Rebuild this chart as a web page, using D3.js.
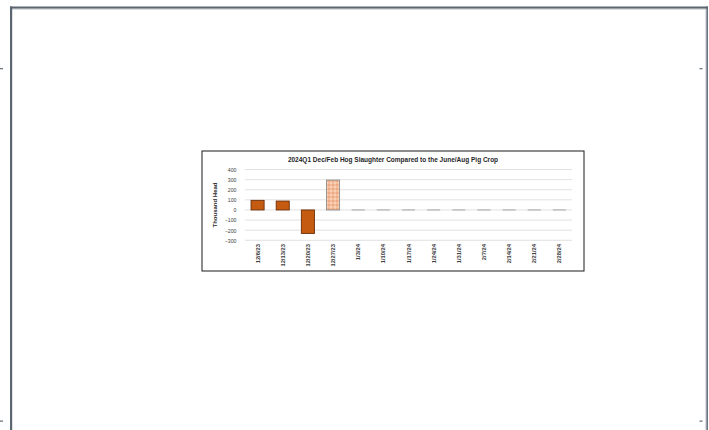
<!DOCTYPE html>
<html>
<head>
<meta charset="utf-8">
<script src="https://cdn.jsdelivr.net/npm/d3@7"></script>
<style>
  body { margin: 0; background: #fff; }
  svg { display: block; }
  text { font-family: "Liberation Sans", Arial, sans-serif; }
</style>
</head>
<body>
<div id="grafico"></div>
<script>
// Datos del grafico
var weeks = ["12/6/23", "12/13/23", "12/20/23", "12/27/23", "1/3/24", "1/10/24", "1/17/24",
             "1/24/24", "1/31/24", "2/7/24", "2/14/24", "2/21/24", "2/28/24"];
var slaughterDiff = [95, 88, -232, 295, 0, 0, 0, 0, 0, 0, 0, 0, 0];
var estimated = [false, false, false, true, false, false, false, false, false, false, false, false, false];
var yTicks = [-300, -200, -100, 0, 100, 200, 300, 400];

var W = 709, H = 430;

var svg = d3.select("#grafico")
  .append("svg")
    .attr("width", W)
    .attr("height", H);

// Marco de la pagina
svg.append("rect").attr("x", 10).attr("y", 6.5).attr("width", 698).attr("height", 2.2).attr("fill", "#5b6670");
svg.append("rect").attr("x", 12).attr("y", 8.7).attr("width", 694).attr("height", 0.8).attr("fill", "#b9c0c6");
svg.append("rect").attr("x", 10).attr("y", 6.5).attr("width", 2.2).attr("height", H).attr("fill", "#5b6670");
svg.append("rect").attr("x", 706.3).attr("y", 6.5).attr("width", 1.6).attr("height", H).attr("fill", "#5b6670");
svg.append("rect").attr("x", 705.5).attr("y", 9).attr("width", 0.8).attr("height", H).attr("fill", "#b9c0c6");
[[0, 68], [699.5, 68], [0, 420.5], [699.5, 420.5]].forEach(function(p) {
  svg.append("rect").attr("x", p[0]).attr("y", p[1]).attr("width", 3).attr("height", 1.3).attr("fill", "#6d7880");
});

// Caja del grafico
var box = {x: 202, y: 151, w: 382, h: 120};
svg.append("rect")
  .attr("x", box.x).attr("y", box.y)
  .attr("width", box.w).attr("height", box.h)
  .attr("fill", "#fff")
  .attr("stroke", "#1a1a1a")
  .attr("stroke-width", 1);

// Patron para la barra estimada
var defs = svg.append("defs");
var pat = defs.append("pattern")
  .attr("id", "puntos")
  .attr("patternUnits", "userSpaceOnUse")
  .attr("width", 4).attr("height", 4);
pat.append("rect").attr("width", 4).attr("height", 4).attr("fill", "#f4bd9c");
pat.append("rect").attr("x", 0).attr("y", 0).attr("width", 2).attr("height", 2).attr("fill", "#efaa84");
pat.append("rect").attr("x", 2).attr("y", 2).attr("width", 2).attr("height", 2).attr("fill", "#f8d0b6");

var plot = {left: 245, right: 572};

var x = d3.scaleBand()
  .domain(weeks)
  .range([plot.left, plot.right])
  .paddingInner(0.48)
  .paddingOuter(0.24);

var y = d3.scaleLinear()
  .domain([-300, 400])
  .range([240.3, 169.5]);

// Lineas de rejilla
svg.append("g")
  .selectAll("line")
  .data(yTicks)
  .enter()
  .append("line")
    .attr("x1", plot.left).attr("x2", plot.right)
    .attr("y1", function(d) { return y(d); })
    .attr("y2", function(d) { return y(d); })
    .attr("stroke", "#d9d9d9")
    .attr("stroke-width", 0.8);

// Eje Y
var yAxis = svg.append("g")
  .attr("transform", "translate(236.5,0)")
  .call(d3.axisLeft(y).tickValues(yTicks).tickSize(0).tickPadding(0));
yAxis.select(".domain").remove();
yAxis.selectAll("text")
  .attr("font-family", "Liberation Sans, Arial, sans-serif")
  .attr("font-size", "5.2px")
  .attr("fill", "#404040")
  .attr("dy", "0.35em");

// Barras
var bars = svg.append("g");
weeks.forEach(function(d, i) {
  var v = slaughterDiff[i];
  if (v === 0) {
    // barra de valor cero: solo el borde
    bars.append("line")
      .attr("x1", x(d)).attr("x2", x(d) + x.bandwidth())
      .attr("y1", y(0)).attr("y2", y(0))
      .attr("stroke", "#a6a6a6")
      .attr("stroke-width", 1);
    return;
  }
  bars.append("rect")
    .attr("x", x(d))
    .attr("width", x.bandwidth())
    .attr("y", y(Math.max(0, v)))
    .attr("height", Math.abs(y(v) - y(0)))
    .attr("fill", estimated[i] ? "url(#puntos)" : "#c55a11")
    .attr("stroke", estimated[i] ? "#8c8c8c" : "#6b2f08")
    .attr("stroke-width", 0.9);
});

// Etiquetas del eje X
var xAxis = svg.append("g")
  .attr("transform", "translate(0,244)")
  .call(d3.axisBottom(x).tickSize(0).tickPadding(0));
xAxis.select(".domain").remove();
xAxis.selectAll("text")
  .attr("font-family", "Liberation Sans, Arial, sans-serif")
  .attr("font-size", "5.8px")
  .attr("font-weight", "bold")
  .attr("fill", "#404040")
  .attr("text-anchor", "end")
  .attr("transform", "rotate(-90)")
  .attr("x", 0)
  .attr("y", 0)
  .attr("dy", "0.35em");

// Titulo del eje Y
svg.append("text")
  .attr("text-anchor", "middle")
  .attr("transform", "translate(216.5,205) rotate(-90)")
  .attr("font-size", "6px")
  .attr("font-weight", "bold")
  .attr("fill", "#262626")
  .text("Thousand Head");

// Titulo
svg.append("text")
  .attr("text-anchor", "middle")
  .attr("x", 393)
  .attr("y", 161.5)
  .attr("font-size", "6.5px")
  .attr("font-weight", "bold")
  .attr("fill", "#262626")
  .text("2024Q1 Dec/Feb Hog Slaughter Compared to the June/Aug Pig Crop");
</script>
</body>
</html>
